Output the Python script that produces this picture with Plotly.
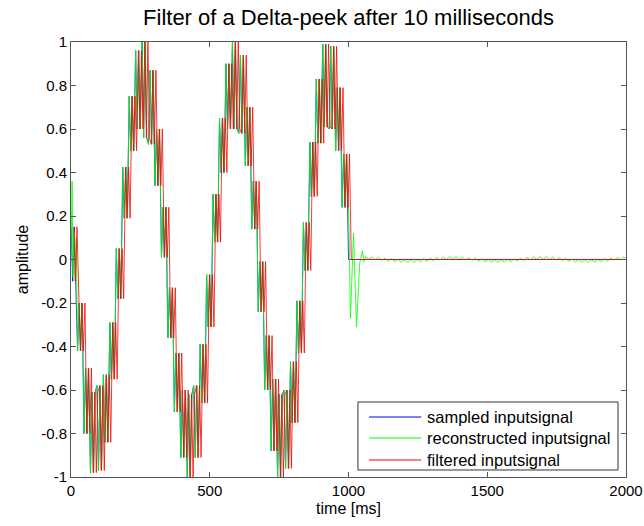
import plotly.graph_objects as go

# sample-and-hold interval of the sampled input (ms)
STEP_MS = 23.25
# end of the input burst (ms)
SIGNAL_END_MS = 1000
# the filter is a delta peak after 10 ms, i.e. a pure delay
DELAY_MS = 10
# axis extent (ms)
T_MAX = 2000

# upper / lower edge of the ripple band of each held sample
step_hi = [0.15, -0.20, -0.50, -0.61, -0.58, -0.53, -0.29, 0.05, 0.425, 0.75,
           0.96, 1.00, 0.87, 0.60, 0.24, -0.13, -0.43, -0.60, -0.62, -0.58,
           -0.39, -0.07, 0.30, 0.65, 0.90, 1.00, 0.94, 0.70, 0.36, -0.01,
           -0.35, -0.55, -0.62, -0.60, -0.47, -0.19, 0.17, 0.54, 0.83, 0.99,
           0.98, 0.79, 0.485]
step_lo = [-0.10, -0.42, -0.80, -0.98, -0.97, -0.84, -0.55, -0.18, 0.19, 0.50,
           0.60, 0.56, 0.53, 0.34, 0.01, -0.36, -0.70, -0.91, -1.00, -0.91,
           -0.66, -0.31, 0.08, 0.40, 0.60, 0.60, 0.58, 0.43, 0.14, -0.24,
           -0.60, -0.88, -1.00, -0.96, -0.75, -0.43, -0.05, 0.29, 0.535, 0.61,
           0.60, 0.50, 0.24]

# times inside one held sample where the ripple turns (ms after sample start)
ripple_offsets = [0.5, 6.0, 11.5, 17.0]

# reconstructed signal: start-up overshoot before the first full sample
green_head_t = [0, 4, 7, 11, 15, 19]
green_head_v = [0.02, 0.36, -0.08, 0.13, -0.10, 0.10]

# reconstructed signal: ringing right after the burst stops
green_ring_t = [1001, 1007, 1018, 1029, 1040, 1050, 1056]
green_ring_v = [0.20, -0.27, 0.12, -0.31, -0.02, 0.04, -0.01]

# reconstructed signal: residual ripple up to 2000 ms
GREEN_TAIL_START = 1062
GREEN_TAIL_DT = 11.625
green_tail_v = [
    0.013, 0.001, 0.012, -0.001, 0.010, -0.004, 0.007, -0.007, 0.004, -0.010,
    0.001, -0.012, -0.001, -0.013, -0.001, -0.013, 0.000, -0.011, 0.003, -0.008,
    0.006, -0.005, 0.009, -0.002, 0.011, 0.000, 0.013, 0.001, 0.013, 0.000,
    0.012, -0.002, 0.009, -0.004, 0.006, -0.008, 0.003, -0.010, 0.000, -0.012,
    -0.001, -0.013, -0.001, -0.012, 0.001, -0.010, 0.003, -0.007, 0.006, -0.004,
    0.010, -0.001, 0.012, 0.001, 0.013, 0.001, 0.013, 0.000, 0.011, -0.002,
    0.008, -0.005, 0.005, -0.008, 0.002, -0.011, 0.000, -0.013, -0.001, -0.013,
    -0.001, -0.012, 0.001, -0.010, 0.004, -0.007, 0.007, -0.003, 0.010, -0.001,
    0.012, 0.001,
]

series_names = ["sampled inputsignal", "reconstructed inputsignal", "filtered inputsignal"]
series_colors = ["#0000ff", "#00ff00", "#ff0000"]


def held_signal(lag, first_step=0):
    """Polyline through the ripple band of every held sample."""
    t, v = [], []
    prev_mid = None
    for k, (hi, lo) in enumerate(zip(step_hi, step_lo)):
        mid = (hi + lo) / 2
        rising = prev_mid is None or mid >= prev_mid
        prev_mid = mid
        if k < first_step:
            continue
        seq = [hi, lo] if rising else [lo, hi]
        for i, off in enumerate(ripple_offsets):
            t.append(k * STEP_MS + off + lag)
            v.append(seq[i % 2])
    return t, v


# sampled input
blue_t, blue_v = held_signal(0)
blue_t += [SIGNAL_END_MS, T_MAX]
blue_v += [0, 0]

# reconstructed input
g_t, g_v = held_signal(0, first_step=1)
green_tail_t = [GREEN_TAIL_START + i * GREEN_TAIL_DT for i in range(len(green_tail_v))]
green_t = green_head_t + g_t + green_ring_t + green_tail_t
green_v = green_head_v + g_v + green_ring_v + green_tail_v

# filtered input (delayed copy)
red_t, red_v = held_signal(DELAY_MS)
red_t += [SIGNAL_END_MS + DELAY_MS, T_MAX]
red_v += [0, 0]

fig = go.Figure()
for (xs, ys), name, color in zip([(blue_t, blue_v), (green_t, green_v), (red_t, red_v)],
                                 series_names, series_colors):
    fig.add_trace(go.Scatter(x=xs, y=ys, mode="lines", name=name, showlegend=False,
                             line=dict(color=color, width=0.8)))

y_ticks = [-1, -0.8, -0.6, -0.4, -0.2, 0, 0.2, 0.4, 0.6, 0.8, 1]
y_text = ["-1", "-0.8", "-0.6", "-0.4", "-0.2", "0", "0.2", "0.4", "0.6", "0.8", "1"]
x_ticks = [0, 500, 1000, 1500, 2000]

# legend box drawn in paper coordinates of the axes
LEG_X0, LEG_X1, LEG_Y0, LEG_Y1 = 0.517, 0.9856, 0.0161, 0.1724
LEG_LINE_X0, LEG_LINE_X1, LEG_TEXT_X = 0.537, 0.631, 0.638
leg_rows = [0.1379, 0.0897, 0.0391]

shapes = [dict(type="rect", xref="paper", yref="paper", x0=LEG_X0, x1=LEG_X1,
               y0=LEG_Y0, y1=LEG_Y1, line=dict(color="#333333", width=1),
               fillcolor="white", layer="above")]
annotations = []
for name, color, yr in zip(series_names, series_colors, leg_rows):
    shapes.append(dict(type="line", xref="paper", yref="paper", x0=LEG_LINE_X0,
                       x1=LEG_LINE_X1, y0=yr, y1=yr, line=dict(color=color, width=1),
                       layer="above"))
    annotations.append(dict(text=name, xref="paper", yref="paper", x=LEG_TEXT_X, y=yr,
                            xanchor="left", yanchor="middle", showarrow=False,
                            font=dict(size=16.5, color="black")))

axis_color = "#555555"
fig.update_layout(
    width=644, height=526,
    margin=dict(l=71, r=18, t=42, b=49, autoexpand=False),
    paper_bgcolor="white", plot_bgcolor="white",
    font=dict(family="Liberation Sans, Arial, sans-serif", size=15, color="black"),
    title=dict(text="Filter of a Delta-peek after 10 milliseconds",
               x=0.5, xref="paper", xanchor="center",
               y=1 - 17 / 526, yref="container", yanchor="middle",
               font=dict(size=22, color="black")),
    xaxis=dict(range=[0, T_MAX], tickvals=x_ticks, ticks="inside", ticklen=5,
               tickcolor=axis_color, showline=True, linecolor=axis_color, linewidth=1,
               mirror="ticks", showgrid=False, zeroline=False, automargin=False,
               tickfont=dict(size=15),
               title=dict(text="time [ms]", standoff=4, font=dict(size=16))),
    yaxis=dict(range=[-1, 1], tickvals=y_ticks, ticktext=y_text, ticks="inside", ticklen=5,
               tickcolor=axis_color, showline=True, linecolor=axis_color, linewidth=1,
               mirror="ticks", showgrid=False, zeroline=False, automargin=False,
               tickfont=dict(size=15),
               title=dict(text="amplitude", standoff=8, font=dict(size=16))),
    shapes=shapes,
    annotations=annotations,
    showlegend=False,
)

fig.write_html("out.html")
